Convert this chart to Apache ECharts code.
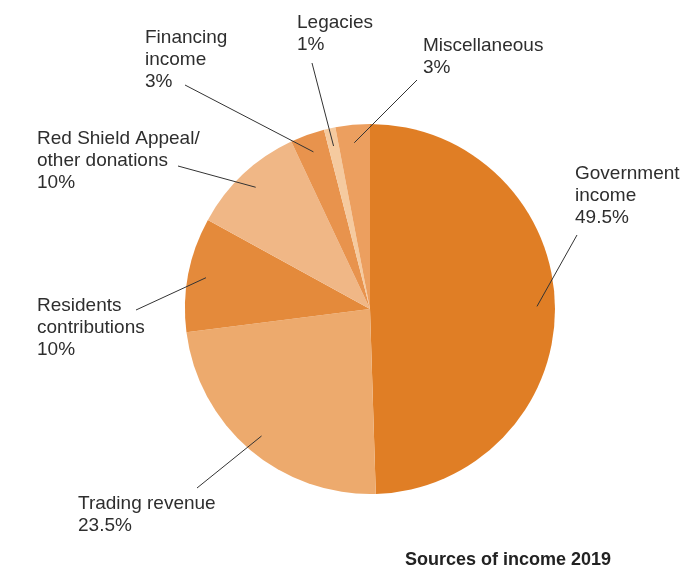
<!DOCTYPE html>
<html>
<head>
<meta charset="utf-8">
<script src="https://cdn.jsdelivr.net/npm/echarts@6/dist/echarts.min.js"></script>
<style>
html,body{margin:0;padding:0;background:#fff;}
#chart{width:680px;height:566px;}
</style>
</head>
<body>
<div id="chart"></div>
<script>
// Data
const categories = [
  'Government\nincome',
  'Trading revenue',
  'Residents\ncontributions',
  'Red Shield Appeal/\nother donations',
  'Financing\nincome',
  'Legacies',
  'Miscellaneous'
];
const values = [49.5, 23.5, 10, 10, 3, 1, 3];
const chartTitle = 'Sources of income 2019';

// Styles / layout (not data)
const colors = ['#E07E25', '#EDAA6D', '#E48A3B', '#F0B786', '#E8934D', '#F5CA9F', '#EC9F5F'];
// label top-left positions and leader line end points
const labelPos = [
  [575, 163], [78, 493], [37, 295], [37, 128], [145, 27], [297, 12], [423, 35]
];
const lineEnds = [
  [577, 235], [197, 488], [136, 310], [178, 166], [185, 85], [312, 63], [417, 80]
];

const font = '"Liberation Sans", Arial, Helvetica, sans-serif';
const chart = echarts.init(document.getElementById('chart'));
const pieData = categories.map((c, i) => ({ name: c, value: values[i], itemStyle: { color: colors[i] } }));

chart.setOption({
  animation: false,
  title: {
    text: chartTitle,
    left: 400, top: 546,
    textStyle: { fontFamily: font, fontSize: 18, fontWeight: 'bold', color: '#222' }
  },
  series: [
    {
      type: 'pie',
      center: [370, 309],
      radius: 185,
      startAngle: 90,
      clockwise: true,
      silent: true,
      itemStyle: { borderWidth: 0 },
      label: { show: false },
      labelLine: { show: false },
      data: pieData
    },
    {
      type: 'pie',
      center: [370, 309],
      radius: 167,
      startAngle: 90,
      clockwise: true,
      silent: true,
      z: 5,
      avoidLabelOverlap: false,
      itemStyle: { color: 'rgba(0,0,0,0)', borderWidth: 0 },
      label: {
        show: true,
        position: 'outside',
        formatter: p => p.name + '\n' + p.value + '%',
        fontFamily: font,
        fontSize: 19,
        lineHeight: 22,
        color: '#2e2e2e',
        align: 'left'
      },
      labelLine: { show: true, length: 10, length2: 10, lineStyle: { color: '#333', width: 1 } },
      labelLayout: function (params) {
        const i = params.dataIndex;
        const start = params.labelLinePoints ? params.labelLinePoints[0] : null;
        const out = { x: labelPos[i][0], y: labelPos[i][1], align: 'left', verticalAlign: 'top' };
        if (start) out.labelLinePoints = [start, lineEnds[i]];
        return out;
      },
      data: categories.map((c, i) => ({ name: c, value: values[i] }))
    }
  ]
});
</script>
</body>
</html>
